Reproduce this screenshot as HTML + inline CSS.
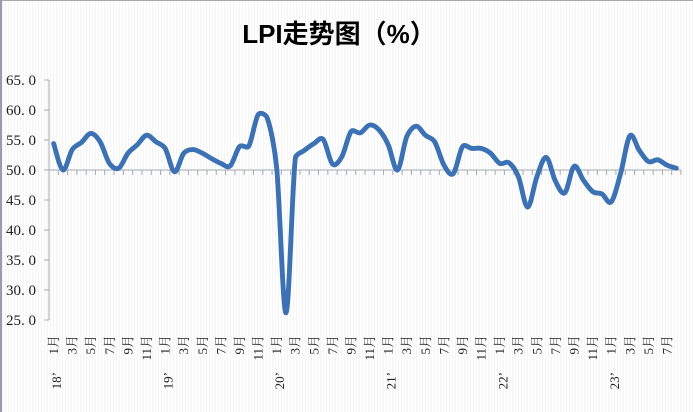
<!DOCTYPE html>
<html>
<head>
<meta charset="utf-8">
<style>
  html, body { margin:0; padding:0; background:#fff; }
  body { width:693px; height:412px; overflow:hidden; }
  svg { display:block; }
  .t { font-family:"Liberation Serif","Noto Serif CJK SC","Noto Sans CJK SC",serif; fill:#222; }
</style>
</head>
<body>
<svg id="c" width="693" height="412" viewBox="0 0 693 412" xmlns="http://www.w3.org/2000/svg">
  <defs>
    <pattern id="st" width="3" height="10" patternUnits="userSpaceOnUse">
      <rect width="3" height="10" fill="#ffffff"/>
      <rect x="2" width="1" height="10" fill="#f5f5f5"/>
    </pattern>
  </defs>
  <rect width="693" height="412" fill="url(#st)"/>
  <rect x="0" y="0" width="693" height="1" fill="#a8a8a8"/>
  <rect x="0" y="0" width="2" height="412" fill="#9a9ab8"/>

  <text x="339" y="43" text-anchor="middle" font-family="'Liberation Sans','Noto Sans CJK SC',sans-serif" font-weight="bold" font-size="26" fill="#000">LPI走势图（%）</text>

  <!-- y axis -->
  <line x1="49" y1="80" x2="49" y2="320" stroke="#a3a9b0" stroke-width="1"/>
  <g id="yt" stroke="#a3a9b0" stroke-width="1"></g>
  <g id="yl" class="t" font-size="15" text-anchor="end"></g>

  <!-- x axis -->
  <line x1="49" y1="170" x2="681" y2="170" stroke="#a3a9b0" stroke-width="1"/>
  <g id="xt" stroke="#a3a9b0" stroke-width="1"></g>
  <g id="xl" class="t" font-size="13"></g>

  <path id="ln" fill="none" stroke="#3C72B4" stroke-width="4.9" stroke-linecap="round" stroke-linejoin="round"
   d="M53.65,143.6 L62.94,170 L72.24,149.6 L81.53,142.4 L90.83,133.4 L100.12,141.8 L109.41,163.4 L118.71,168.2 L128,153.2 L137.3,144.8 L146.59,135.2 L155.88,141.8 L165.18,148.4 L174.47,171.8 L183.77,153.2 L193.06,149.6 L202.35,153.2 L211.65,158.6 L220.94,163.4 L230.24,165.8 L239.53,146.6 L248.82,146 L258.12,114.8 L267.41,118.4 L276.71,168.2 L286,312.8 L295.29,158.6 L304.59,150.2 L313.88,143.6 L323.18,139.4 L332.47,164 L341.76,156.8 L351.06,131.6 L360.35,132.8 L369.65,125 L378.94,129.8 L388.23,144.8 L397.53,170 L406.82,136.4 L416.12,126.2 L425.41,135.2 L434.7,141.8 L444,165.2 L453.29,173.6 L462.59,146.6 L471.88,148.4 L481.17,148.4 L490.47,153.2 L499.76,163.4 L509.06,162.8 L518.35,176.6 L527.64,207.2 L536.94,176.6 L546.23,157.4 L555.53,181.4 L564.82,192.8 L574.11,166.4 L583.41,180.2 L592.7,191.6 L602,194 L611.29,201.8 L620.58,173.6 L629.88,135.8 L639.17,150.2 L648.47,161.6 L657.76,159.8 L667.05,165.2 L676.35,168.2"/>
</svg>
<script>
(function(){
  var NS="http://www.w3.org/2000/svg";
  function el(tag, attrs, parent, txt){
    var e=document.createElementNS(NS,tag);
    for(var k in attrs) e.setAttribute(k, attrs[k]);
    if(txt!==undefined) e.textContent=txt;
    parent.appendChild(e); return e;
  }
  var yt=document.getElementById('yt'), yl=document.getElementById('yl');
  var labels=["65. 0","60. 0","55. 0","50. 0","45. 0","40. 0","35. 0","30. 0","25. 0"];
  for(var i=0;i<9;i++){
    var y=80+30*i;
    el('line',{x1:44,y1:y,x2:49,y2:y},yt);
    el('text',{x:36,y:y+5},yl,labels[i]);
  }
  var xt=document.getElementById('xt'), xl=document.getElementById('xl');
  var step=9.294, x0=49;
  for(var k=0;k<=68;k++){
    var x=x0+step*k;
    el('line',{x1:x,y1:170,x2:x,y2:175},xt);
  }
  var years=["18’","19’","20’","21’","22’","23’"];
  for(var i=0;i<68;i+=2){
    var xc=x0+step*(i+0.5);
    var m=(i%12)+1;
    el('text',{x:0,y:0,'text-anchor':'end',transform:'translate('+(xc+4.4)+',335) rotate(-90)'},xl,m+'月');
    if(i%12===0){
      el('text',{x:0,y:0,'text-anchor':'end',transform:'translate('+(xc+7.5)+',372) rotate(-90)'},xl,years[i/12]);
    }
  }
  // Catmull-Rom smoothing with clamped tangent lengths
  var v=[54.4,50.0,53.4,54.6,56.1,54.7,51.1,50.3,52.8,54.2,55.8,54.7,
         53.6,49.7,52.8,53.4,52.8,51.9,51.1,50.7,53.9,54.0,59.2,58.6,
         50.3,26.2,51.9,53.3,54.4,55.1,51.0,52.2,56.4,56.2,57.5,56.7,
         54.2,50.0,55.6,57.3,55.8,54.7,50.8,49.4,53.9,53.6,53.6,52.8,
         51.1,51.2,48.9,43.8,48.9,52.1,48.1,46.2,50.6,48.3,46.4,46.0,
         44.7,49.4,55.7,53.3,51.4,51.7,50.8,50.3];
  var P=v.map(function(val,i){return [x0+step*(i+0.5), 170-(val-50)*6];});
  var n=P.length;
  function tang(i){
    var a=P[Math.max(0,i-1)], b=P[Math.min(n-1,i+1)];
    return [(b[0]-a[0])/6,(b[1]-a[1])/6];
  }
  function clamp(m,S){
    var L=Math.sqrt(m[0]*m[0]+m[1]*m[1]), lim=0.42*S;
    if(L>lim && L>0){ return [m[0]*lim/L, m[1]*lim/L]; }
    return m;
  }
  var d="M"+P[0][0].toFixed(2)+","+P[0][1].toFixed(2);
  for(var i=0;i<n-1;i++){
    var p1=P[i], p2=P[i+1];
    var sx=p2[0]-p1[0], sy=p2[1]-p1[1], S=Math.sqrt(sx*sx+sy*sy);
    var m1=clamp(tang(i),S), m2=clamp(tang(i+1),S);
    var c1x=p1[0]+m1[0], c1y=p1[1]+m1[1];
    var c2x=p2[0]-m2[0], c2y=p2[1]-m2[1];
    d+=" C"+c1x.toFixed(2)+","+c1y.toFixed(2)+" "+c2x.toFixed(2)+","+c2y.toFixed(2)+" "+p2[0].toFixed(2)+","+p2[1].toFixed(2);
  }
  document.getElementById('ln').setAttribute('d',d);
})();
</script>
</body>
</html>
